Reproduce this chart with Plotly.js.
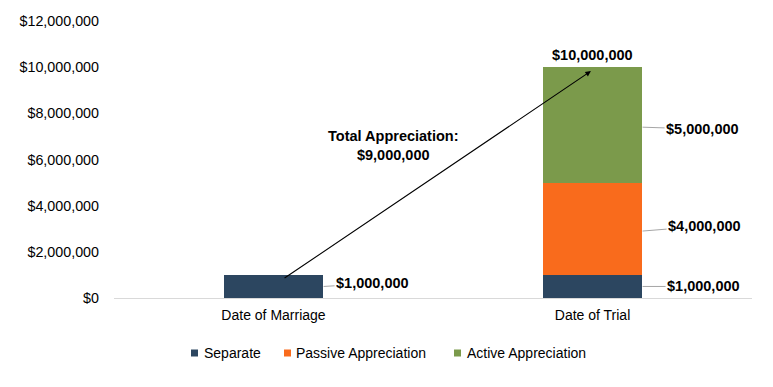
<!DOCTYPE html>
<html>
<head>
<meta charset="utf-8">
<script src="https://cdn.plot.ly/plotly-3.0.1.min.js"></script>
<style>html,body{margin:0;padding:0;background:#fff;}#chart{width:773px;height:387px;}</style>
</head>
<body>
<div id="chart"></div>
<script>
const categories = ["Date of Marriage", "Date of Trial"];
const seriesNames = ["Separate", "Passive Appreciation", "Active Appreciation"];
const separate = [1000000, 1000000];
const passive = [0, 4000000];
const active = [0, 5000000];
const totals = [1000000, 10000000];
const tickValues = [0, 2000000, 4000000, 6000000, 8000000, 10000000, 12000000];
const tickLabels = ["$0", "$2,000,000", "$4,000,000", "$6,000,000", "$8,000,000", "$10,000,000", "$12,000,000"];

const FONT = "Liberation Sans, Arial, sans-serif";
const fmt = v => "$" + v.toLocaleString("en-US");
const colors = ["#2C4660", "#F96B1C", "#7B9A4B"];
const halfW = 0.157;

const seriesVals = [separate, passive, active];
const traces = seriesVals.map((vals, i) => ({
  type: "bar", name: seriesNames[i], x: [0, 1], y: vals, marker: {color: colors[i]}, hoverinfo: "skip"
}));

const lblFont = {family: FONT, size: 14.5, color: "#000"};
function leader(x, y, val, ax, ay) {
  return {x: x, y: y, xref: "x", yref: "y", text: "<b>" + fmt(val) + "</b>", showarrow: true,
    arrowhead: 0, arrowwidth: 1, arrowcolor: "#a6a6a6", ax: ax, ay: ay, font: lblFont, standoff: 0};
}

const annotations = [
  leader(0 + halfW, separate[0] / 2, separate[0], 49, -3),
  leader(1 + halfW, separate[1] / 2, separate[1], 61, 0),
  leader(1 + halfW, separate[1] + passive[1] / 2 - 100000, passive[1], 62, -5),
  leader(1 + halfW, separate[1] + passive[1] + active[1] / 2 - 100000, active[1], 60, 2),
  {x: 1, y: totals[1], xref: "x", yref: "y", text: "<b>" + fmt(totals[1]) + "</b>", showarrow: false,
    yanchor: "bottom", yshift: 2, font: lblFont},
  {x: 0.995, y: 9830000, xref: "x", yref: "y", axref: "x", ayref: "y", ax: 0.03, ay: 820000,
    text: "", showarrow: true, arrowhead: 2, arrowsize: 1, arrowwidth: 1.1, arrowcolor: "#000"},
  {x: 0.375, y: 6620000, xref: "x", yref: "y", showarrow: false,
    text: "<b>Total Appreciation:<br>" + fmt(totals[1] - totals[0]) + "</b>", font: lblFont}
];

// custom legend (small squares close to text, as in the reference)
const legendSquareX = [191, 284, 454];   // pixel positions
const legendTextX = [202, 294, 465];
const legendY = 353;
const px2x = p => (p - 114) / 638;
const px2y = p => (298 - p) / 277;
const shapes = [];
seriesNames.forEach((n, i) => {
  shapes.push({type: "rect", xref: "paper", yref: "paper", xsizemode: "pixel", ysizemode: "pixel",
    xanchor: px2x(legendSquareX[i]), yanchor: px2y(legendY), x0: 0, x1: 7, y0: -3.5, y1: 3.5,
    fillcolor: colors[i], line: {width: 0}});
  annotations.push({xref: "paper", yref: "paper", x: px2x(legendTextX[i]), y: px2y(legendY),
    xanchor: "left", yanchor: "middle", showarrow: false, text: n,
    font: {family: FONT, size: 14, color: "#000"}});
});

const layout = {
  width: 773, height: 387,
  margin: {l: 114, r: 21, t: 21, b: 89},
  paper_bgcolor: "#fff", plot_bgcolor: "#fff",
  barmode: "stack", bargap: 0.687,
  font: {family: FONT, size: 14, color: "#000"},
  xaxis: {tickmode: "array", tickvals: [0, 1], ticktext: categories, range: [-0.5, 1.5],
    showline: true, linecolor: "#d9d9d9", linewidth: 1, showgrid: false, zeroline: false, ticks: "",
    ticklabelstandoff: 4, tickfont: {family: FONT, size: 14, color: "#000"}, fixedrange: true},
  yaxis: {range: [0, 12000000], tickmode: "array", tickvals: tickValues, ticktext: tickLabels,
    showgrid: false, zeroline: false, showline: false, ticks: "", ticklabelstandoff: 14,
    tickfont: {family: FONT, size: 14.3, color: "#000"}, fixedrange: true},
  showlegend: false,
  shapes: shapes,
  annotations: annotations
};

Plotly.newPlot("chart", traces, layout, {displayModeBar: false, staticPlot: true});
</script>
</body>
</html>
